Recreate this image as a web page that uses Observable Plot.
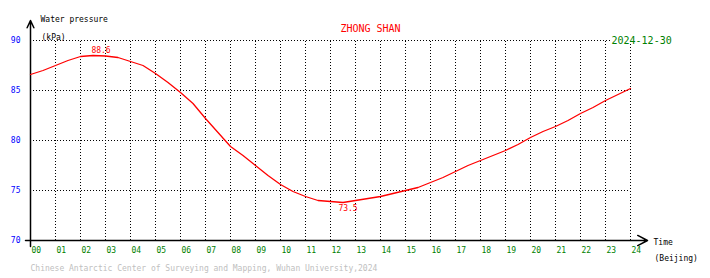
<!DOCTYPE html>
<html>
<head>
<meta charset="utf-8">
<script src="https://cdn.jsdelivr.net/npm/d3@7"></script>
<script src="https://cdn.jsdelivr.net/npm/@observablehq/plot@0.6"></script>
<style>
  html, body { margin: 0; padding: 0; background: #fff; }
</style>
</head>
<body>
<div id="chart"></div>
<script>
// ---- data ----
const hours = [0,0.5,1,1.5,2,2.5,3,3.5,4,4.5,5,5.5,6,6.5,7,7.5,8,8.5,9,9.5,10,10.5,11,11.5,12,12.5,13,13.5,14,14.5,15,15.5,16,16.5,17,17.5,18,18.5,19,19.5,20,20.5,21,21.5,22,22.5,23,23.5,24];
const pressure = [86.6,87.0,87.5,88.0,88.4,88.5,88.45,88.3,87.9,87.5,86.7,85.8,84.8,83.7,82.2,80.8,79.4,78.5,77.5,76.5,75.6,74.9,74.4,74.0,73.9,73.8,74.0,74.2,74.4,74.7,75.0,75.3,75.8,76.3,76.9,77.5,78.0,78.5,79.0,79.6,80.3,80.9,81.4,82.0,82.7,83.3,84.0,84.6,85.2];
const xTicks = d3.range(0, 25);
const xTickLabels = xTicks.map(h => String(h).padStart(2, "0"));
const yTicks = [70, 75, 80, 85, 90];
const yGrid = [75, 80, 85];
const extremeHours = [2.82, 12.7];
const extremeValues = [88.6, 73.5];
const extremeLabels = ["88.6", "73.5"];
const title = "ZHONG SHAN";
const dateText = "2024-12-30";
const yTitle1 = "Water pressure";
const yTitle2 = "(kPa)";
const xTitle1 = "Time";
const xTitle2 = "(Beijing)";
const footer = "Chinese Antarctic Center of Surveying and Mapping, Wuhan University,2024";

const data = hours.map((h, i) => ({hour: h, value: pressure[i]}));
const extremes = extremeHours.map((h, i) => ({hour: h, value: extremeValues[i], label: extremeLabels[i]}));
const mono = "'DejaVu Sans Mono', 'Liberation Mono', monospace";

const chart = Plot.plot({
  width: 710,
  height: 278,
  marginLeft: 30,
  marginRight: 80,
  marginTop: 40,
  marginBottom: 38,
  x: {domain: [0, 24], axis: null},
  y: {domain: [70, 90], axis: null},
  style: {fontFamily: mono, background: "#fff", overflow: "visible"},
  marks: [
    // dotted grid
    Plot.ruleX(xTicks.slice(1), {x: d => d, y1: 70, y2: 90, stroke: "#000", strokeDasharray: "1,2", strokeWidth: 1}),
    Plot.ruleY(yGrid, {y: d => d, x1: 0, x2: 24, stroke: "#000", strokeDasharray: "1,2", strokeWidth: 1}),
    Plot.ruleY([90], {y: d => d, x1: 0, x2: 23.2, stroke: "#000", strokeDasharray: "1,2", strokeWidth: 1}),
    // axes with arrows
    Plot.arrow([0], {x1: -0.2, x2: 24.68, y1: 70, y2: 70, stroke: "#000", strokeWidth: 1.5, headLength: 11, headAngle: 55}),
    Plot.arrow([0], {x1: 0, x2: 0, y1: 69.4, y2: 92, stroke: "#000", strokeWidth: 1.5, headLength: 8, headAngle: 50}),
    // data line
    Plot.line(data, {x: "hour", y: "value", stroke: "#ff0000", strokeWidth: 1.3}),
    // extreme labels
    Plot.text([extremes[0]], {x: "hour", y: "value", text: "label", dy: -4, fill: "#ff0000", fontSize: 8}),
    Plot.text([extremes[1]], {x: "hour", y: "value", text: "label", dy: 3, fill: "#ff0000", fontSize: 8}),
    // tick labels
    Plot.text(xTicks, {x: d => d, frameAnchor: "bottom", dy: 12, dx: 1, text: (d, i) => xTickLabels[i], textAnchor: "start", fill: "#008000", fontSize: 8}),
    Plot.text(yTicks, {y: d => d, frameAnchor: "left", dx: -10, text: d => String(d), textAnchor: "end", fill: "#0000ff", fontSize: 8}),
    // titles
    Plot.text([yTitle1], {frameAnchor: "top-left", dx: 10, dy: -24, text: d => d, textAnchor: "start", fill: "#000", fontSize: 8}),
    Plot.text([yTitle2], {frameAnchor: "top-left", dx: 11, dy: -6, text: d => d, textAnchor: "start", fill: "#000", fontSize: 8}),
    Plot.text([title], {frameAnchor: "top", dx: 40, dy: -16, text: d => d, fill: "#ff0000", fontSize: 10}),
    Plot.text([dateText], {frameAnchor: "top-right", dx: -19, dy: -4, text: d => d, textAnchor: "start", fill: "#008000", fontSize: 10}),
    Plot.text([xTitle1], {frameAnchor: "bottom-right", dx: 23, dy: 4, text: d => d, textAnchor: "start", fill: "#000", fontSize: 8}),
    Plot.text([xTitle2], {frameAnchor: "bottom-right", dx: 24, dy: 20, text: d => d, textAnchor: "start", fill: "#000", fontSize: 8}),
    Plot.text([footer], {frameAnchor: "bottom-left", dx: 0, dy: 30, text: d => d, textAnchor: "start", fill: "#c0c0c0", fontSize: 8})
  ]
});
document.getElementById("chart").appendChild(chart);
</script>
</body>
</html>
